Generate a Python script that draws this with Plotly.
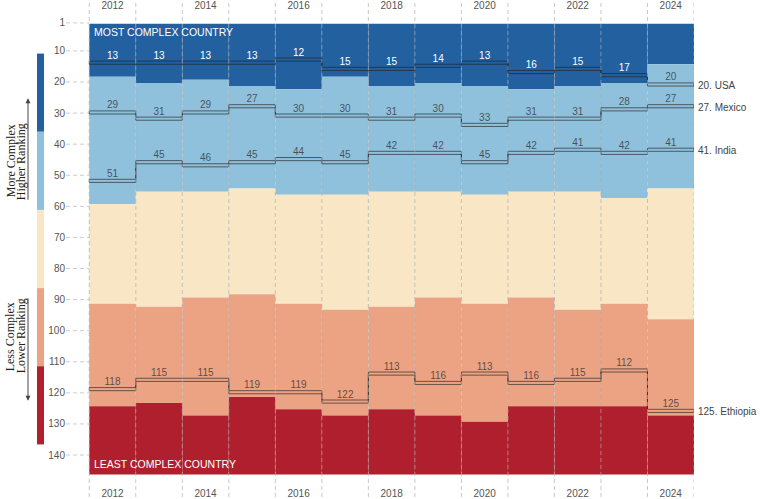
import plotly.graph_objects as go

# ---------------- data ----------------
years = list(range(2012, 2025))
usa = [13, 13, 13, 13, 12, 15, 15, 14, 13, 16, 15, 17, 20]
mexico = [29, 31, 29, 27, 30, 30, 31, 30, 33, 31, 31, 28, 27]
india = [51, 45, 46, 45, 44, 45, 42, 42, 45, 42, 41, 42, 41]
ethiopia = [118, 115, 115, 119, 119, 122, 113, 116, 113, 116, 115, 112, 125]
country_names = ["USA", "Mexico", "India", "Ethiopia"]

# first rank of each colour group per year
lightblue_start = [18, 20, 19, 21, 22, 18, 21, 20, 21, 22, 21, 20, 14]
cream_start = [59, 55, 55, 54, 56, 56, 55, 55, 56, 55, 55, 57, 54]
salmon_start = [91, 92, 89, 88, 91, 93, 92, 89, 91, 89, 93, 91, 96]
red_start = [124, 123, 127, 121, 125, 127, 125, 127, 129, 124, 124, 124, 127]
n_countries = 145

y_ticks = [1, 10, 20, 30, 40, 50, 60, 70, 80, 90, 100, 110, 120, 130, 140]
year_ticks = [2012, 2014, 2016, 2018, 2020, 2022, 2024]

# ---------------- styling / layout constants ----------------
W, H = 760, 499
ML, MR = 66, 66
OFF = 0.3          # band offset of a rank inside the axis
C_DB = "#22609f"
C_LB = "#8fc0dc"
C_CR = "#f8e6c4"
C_SA = "#eca384"
C_RD = "#af1f2d"
FONT = "Liberation Sans, Arial, sans-serif"
SERIF = "Liberation Serif, Times New Roman, serif"
X_MIN = 2011.0

plot_w = W - ML - MR


def xpap(px):
    return (px - ML) / plot_w


def ypap(py):
    return 1 - py / H


fig = go.Figure()

# colour groups as floating bars
top_rank = [1] * len(years)
end_rank = [n_countries + 1] * len(years)
groups = [
    (top_rank, lightblue_start, C_DB),
    (lightblue_start, cream_start, C_LB),
    (cream_start, salmon_start, C_CR),
    (salmon_start, red_start, C_SA),
    (red_start, end_rank, C_RD),
]
for s, e, col in groups:
    fig.add_trace(go.Bar(
        x=years, base=[v + OFF for v in s], y=[b - a for a, b in zip(s, e)],
        width=1, marker=dict(color=col, line=dict(width=0)),
        showlegend=False, hoverinfo="skip"))

# country ribbons
series = [usa, mexico, india, ethiopia]
for ranks in series:
    xs, ys = [], []
    for yr, r in zip(years, ranks):
        xs += [yr - 0.5, yr + 0.5]
        ys += [r + OFF, r + OFF]
    for yr, r in zip(reversed(years), reversed(ranks)):
        xs += [yr + 0.5, yr - 0.5]
        ys += [r + OFF + 1, r + OFF + 1]
    xs.append(xs[0])
    ys.append(ys[0])
    fig.add_trace(go.Scatter(
        x=xs, y=ys, mode="lines",
        line=dict(color="rgba(35,35,35,0.65)", width=1),
        showlegend=False, hoverinfo="skip"))
    colors = ["white" if r < lb else "rgba(45,45,45,0.75)"
              for r, lb in zip(ranks, lightblue_start)]
    fig.add_trace(go.Scatter(
        x=years, y=[r + OFF for r in ranks], mode="text",
        text=[str(r) for r in ranks], textposition="top center",
        textfont=dict(family=FONT, size=10, color=colors),
        showlegend=False, hoverinfo="skip"))

# invisible trace to carry the top year axis
fig.add_trace(go.Scatter(x=[years[0], years[-1]], y=[None, None], xaxis="x2",
                         mode="markers", showlegend=False, hoverinfo="skip"))

# short dashed horizontal grid lines in the left strip
for t in y_ticks:
    fig.add_shape(type="line", xref="x", yref="y", x0=X_MIN, x1=years[0] - 0.5,
                  y0=t, y1=t, layer="below",
                  line=dict(color="#cccccc", width=1, dash="4px,3px"))

# vertical dashed separators
for yr in years + [years[-1] + 1]:
    fig.add_shape(type="line", xref="x", yref="paper", x0=yr - 0.5, x1=yr - 0.5,
                  y0=0, y1=1, layer="above",
                  line=dict(color="rgba(170,170,170,0.65)", width=1, dash="4px,3px"))

# left colour legend bar
bar_cols = [C_DB, C_LB, C_CR, C_SA, C_RD]
seg = (446 - 52) / 5
for i, col in enumerate(bar_cols):
    fig.add_shape(type="rect", xref="paper", yref="paper",
                  x0=xpap(37), x1=xpap(44),
                  y0=ypap(52 + (i + 1) * seg), y1=ypap(52 + i * seg),
                  fillcolor=col, line=dict(width=0), layer="above")

ann = []
# country end labels
for name, ranks in zip(country_names, series):
    ann.append(dict(x=years[-1] + 0.5, y=ranks[-1] + 1.1, xref="x", yref="y",
                    text=f"{ranks[-1]}. {name}", showarrow=False,
                    xanchor="left", yanchor="middle", xshift=2,
                    font=dict(family=FONT, size=10, color="#444")))
# corner captions
ann.append(dict(x=years[0] - 0.5, y=ypap(30), xref="x", yref="paper",
                text="MOST COMPLEX COUNTRY", showarrow=False, xanchor="left",
                yanchor="middle", xshift=3,
                font=dict(family=FONT, size=10.5, color="white")))
ann.append(dict(x=years[0] - 0.5, y=ypap(466), xref="x", yref="paper",
                text="LEAST COMPLEX COUNTRY", showarrow=False, xanchor="left",
                yanchor="middle", xshift=3,
                font=dict(family=FONT, size=10.5, color="white")))
# rotated side labels
for txt, px, py in [("More Complex", 10.5, 160), ("Higher Ranking", 20.5, 161),
                    ("Less Complex", 10, 338), ("Lower Ranking", 21, 337)]:
    ann.append(dict(x=xpap(px), y=ypap(py), xref="paper", yref="paper",
                    text=txt, textangle=-90, showarrow=False,
                    xanchor="center", yanchor="middle",
                    font=dict(family=SERIF, size=12, color="#222")))
# arrows
ann.append(dict(x=xpap(28), y=ypap(97), xref="paper", yref="paper", text="",
                showarrow=True, ax=0, ay=103, arrowhead=2, arrowsize=1,
                arrowwidth=1, arrowcolor="#444"))
ann.append(dict(x=xpap(28), y=ypap(402), xref="paper", yref="paper", text="",
                showarrow=True, ax=0, ay=-104, arrowhead=2, arrowsize=1,
                arrowwidth=1, arrowcolor="#444"))

y_top = -5.73
y_bot = 153.5

fig.update_layout(
    width=W, height=H,
    margin=dict(l=ML, r=MR, t=0, b=0, pad=0),
    paper_bgcolor="white", plot_bgcolor="white",
    barmode="overlay", showlegend=False,
    annotations=ann,
    xaxis=dict(range=[X_MIN, 2024.5], tickvals=year_ticks,
               ticklabelposition="inside", ticklabelstandoff=-5,
               showgrid=False, zeroline=False, showline=False, ticks="",
               tickfont=dict(family=FONT, size=10, color="#555")),
    xaxis2=dict(overlaying="x", matches="x", side="top", tickvals=year_ticks,
                ticklabelposition="inside", ticklabelstandoff=-3,
                showgrid=False, zeroline=False, showline=False, ticks="",
                tickfont=dict(family=FONT, size=10, color="#555")),
    yaxis=dict(range=[y_bot, y_top], tickvals=y_ticks, showgrid=False,
               zeroline=False, showline=False, ticks="",
               tickfont=dict(family=FONT, size=10, color="#555")),
)

fig.write_html("out.html")
